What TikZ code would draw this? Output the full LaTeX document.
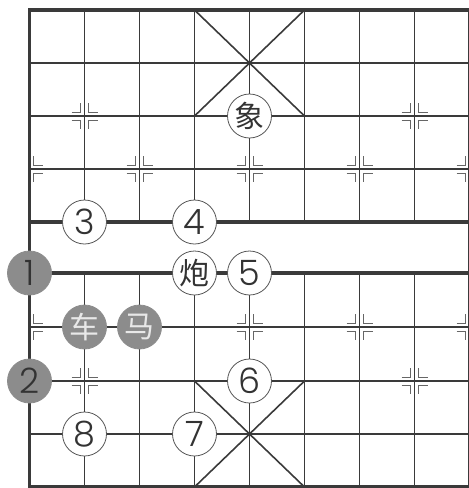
\documentclass[tikz,border=0pt]{standalone}
\usepackage{fontspec}
\setmainfont{Poppins Light}
\newfontfamily\cjk{Noto Sans CJK SC}
\definecolor{linec}{HTML}{3A3A3A}
\definecolor{markc}{HTML}{666666}
\definecolor{circc}{HTML}{555555}
\definecolor{pgray}{HTML}{8C8C8C}
\definecolor{txtc}{HTML}{333333}
\definecolor{wtxt}{HTML}{E8E8E8}
\tikzset{
  gridln/.style={line width=1.6pt, draw=linec},
  borderln/.style={line width=3.6pt, draw=linec},
  mk/.style={line width=1pt, draw=markc},
  piece/.style={circle, minimum size=44pt, inner sep=0pt, draw=circc, line width=0.8pt, fill=white, text=txtc, font=\fontsize{35}{35}\selectfont},
  cpiece/.style={piece, font=\cjk\fontsize{30}{30}\selectfont},
  gpiece/.style={piece, fill=pgray, draw=pgray, text=txtc},
  gcpiece/.style={cpiece, fill=pgray, draw=pgray, text=wtxt}
}
\newcommand\xqL[2]{%
  \draw[mk,shift={(#1,#2)}] (-13,-4) -- (-4,-4) -- (-4,-13);
  \draw[mk,shift={(#1,#2)}] (-13,4) -- (-4,4) -- (-4,13);}
\newcommand\xqR[2]{%
  \draw[mk,shift={(#1,#2)}] (13,-4) -- (4,-4) -- (4,-13);
  \draw[mk,shift={(#1,#2)}] (13,4) -- (4,4) -- (4,13);}
\newcommand\xqF[2]{\xqL{#1}{#2}\xqR{#1}{#2}}
\begin{document}
\begin{tikzpicture}[x=1pt,y=-1pt]
\useasboundingbox (0,0) rectangle (469,488);
% thin horizontal lines
\foreach \y in {63,116,169,327,381,434}
  \draw[gridln] (29.5,\y) -- (469.5,\y);
% thin vertical lines
\foreach \i in {1,...,7}{
  \draw[gridln] (29.5+55*\i,10) -- (29.5+55*\i,222);
  \draw[gridln] (29.5+55*\i,273) -- (29.5+55*\i,487);
}
% palace diagonals
\draw[gridln] (194.5,10) -- (304.5,116);
\draw[gridln] (304.5,10) -- (194.5,116);
\draw[gridln] (194.5,381) -- (304.5,487);
\draw[gridln] (304.5,381) -- (194.5,487);
% borders and river
\draw[borderln] (29.5,10) -- (469.5,10);
\draw[borderln] (29.5,487) -- (469.5,487);
\draw[borderln] (29.5,222) -- (469.5,222);
\draw[borderln] (29.5,273) -- (469.5,273);
\draw[borderln] (29.5,8.2) -- (29.5,488.5);
\draw[borderln] (469.5,8.2) -- (469.5,488.5);
% position markers
\xqF{84.5}{116} \xqF{414.5}{116}
\xqR{29.5}{169} \xqF{139.5}{169} \xqF{249.5}{169} \xqF{359.5}{169} \xqL{469.5}{169}
\xqR{29.5}{327} \xqF{249.5}{327} \xqF{359.5}{327} \xqL{469.5}{327}
\xqF{84.5}{381} \xqF{414.5}{381}
% pieces
\node[cpiece] (xiang) at (249.5,116) {象};
\node[piece] (p3) at (84.5,222) {3};
\node[piece] (p4) at (194.5,222) {4};
\node[gpiece] (p1) at (29.5,273) {1};
\node[cpiece] (pao) at (194.5,273) {炮};
\node[piece] (p5) at (249.5,273) {5};
\node[gcpiece] (che) at (84.5,327) {车};
\node[gcpiece] (ma) at (139.5,327) {马};
\node[gpiece] (p2) at (29.5,381) {2};
\node[piece] (p6) at (249.5,381) {6};
\node[piece] (p8) at (84.5,434) {8};
\node[piece] (p7) at (194.5,434) {7};
\end{tikzpicture}
\end{document}
